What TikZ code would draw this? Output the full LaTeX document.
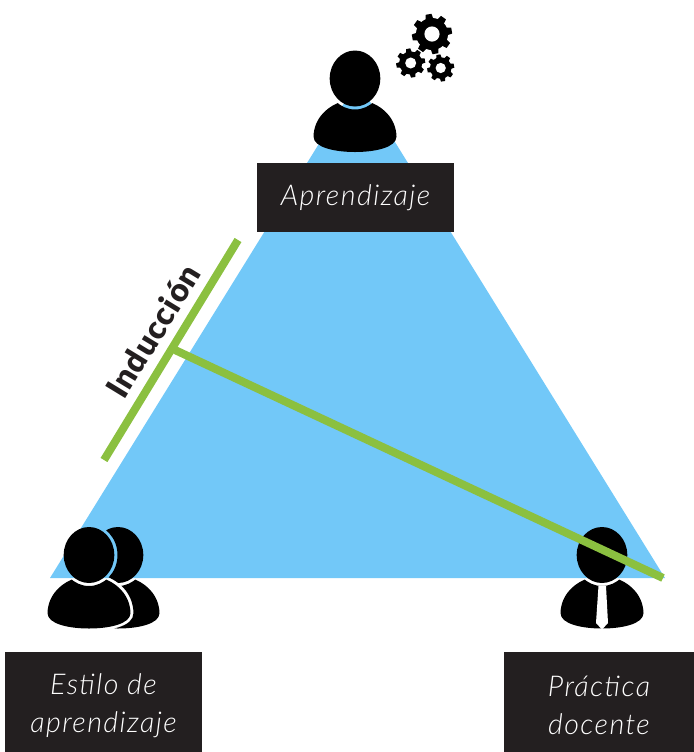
\documentclass[tikz,border=0pt]{standalone}
\usepackage{fontspec}
\usepackage{xcolor}
\newfontfamily\boxfont[LetterSpace=5]{Lato Light Italic}
\newfontfamily\titlefont[LetterSpace=3]{Lato Black}
\definecolor{skyblue}{HTML}{72C8F8}
\definecolor{leafgreen}{HTML}{8BC040}
\definecolor{boxblack}{HTML}{231F20}
\newcommand{\bodypath}{(-41.5,58) .. controls (-41,40) and (-28,27) .. (-10,22) -- (10,22) .. controls (28,27) and (41,40) .. (41.5,58) .. controls (41.5,69) and (20,73.5) .. (0,73.5) .. controls (-20,73.5) and (-41.5,69) .. (-41.5,58) -- cycle}
\newcommand{\ringpath}{(-150,-150) rectangle (150,150) (0,0) ellipse (28.5 and 31)}
\tikzset{
    labelbox/.style={fill=boxblack,text=white,font=\boxfont\fontsize{16.3}{21.8}\selectfont,align=center,inner sep=0pt},
    greenbar/.style={draw=leafgreen,line width=0.16cm},
    person/.pic={
        \fill (0,0) ellipse (25.3 and 28);
        \begin{scope}[even odd rule]
            \clip \ringpath;
            \fill \bodypath;
        \end{scope}
    },
    gear/.pic={
        \fill (0,0) circle (0.8);
        \foreach \a in {0,45,...,315}
            \fill[rotate=\a+10] (-0.22,0.6) -- (-0.15,1) -- (0.15,1) -- (0.22,0.6) -- cycle;
        \fill[white] (0,0) circle (0.38);
    },
}
\begin{document}
\begin{tikzpicture}[x=0.02cm,y=-0.02cm]
    \useasboundingbox (0,0) rectangle (694,752);
    \fill[skyblue] (357.5,81.5) -- (665,578) -- (50,578) -- cycle;
    % back figure, with the gap round the front one left open
    \begin{scope}[shift={(89,555)},even odd rule]
        \clip \ringpath;
        \clip (-150,-150) rectangle (150,150) (-44.5,58) .. controls (-44,38) and (-30,24) .. (-10,19) -- (10,19) .. controls (30,24) and (44,38) .. (44.5,58) .. controls (44.5,72) and (20,76) .. (0,76) .. controls (-20,76) and (-44.5,72) .. (-44.5,58) -- cycle;
        \pic at (29,0) {person};
    \end{scope}
    \pic at (89,555) {person};
    \pic at (355,78.5) {person};
    \pic at (602,555) {person};
    \fill[white] (598.5,586) -- (606,586) -- (608,623) -- (602,629.5) -- (596,623) -- cycle;
    \pic[scale=20] at (432,34) {gear};
    \pic[scale=14.5] at (410.7,63) {gear};
    \pic[scale=13.5] at (440.7,68) {gear};
    \node[labelbox,minimum width=3.94cm,minimum height=1.38cm] (aprendizaje) at (355.5,197.5) {Aprendizaje};
    \node[labelbox,minimum width=3.94cm,minimum height=2.14cm] (estilo) at (103.5,705.5) {Estilo de\\aprendizaje};
    \node[labelbox,minimum width=3.8cm,minimum height=2.14cm] (practica) at (599,705.5) {Práctica\\docente};
    \coordinate (indtop) at (238,240);
    \coordinate (indbot) at (104,460);
    \coordinate (indmid) at (175,350);
    \coordinate (docente) at (663,578);
    \draw[greenbar] (indtop) -- (indbot);
    \draw[greenbar] (indmid) -- (docente);
    \node[rotate=58.6,font=\titlefont\fontsize{18.3}{20}\selectfont,text=boxblack,inner sep=0pt] (induccion) at (153,331) {Inducción};
\end{tikzpicture}
\end{document}
